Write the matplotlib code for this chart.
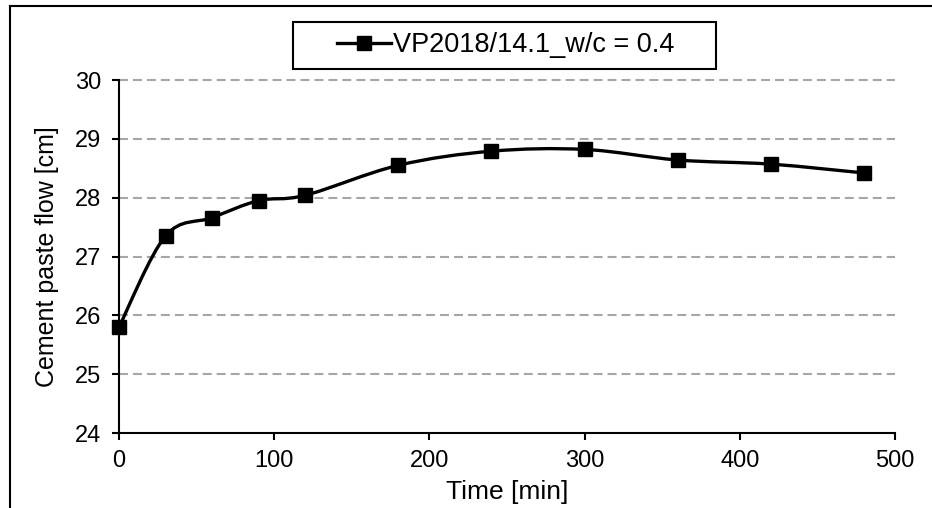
import numpy as np
import matplotlib
matplotlib.use("Agg")
import matplotlib.pyplot as plt
from matplotlib.path import Path
from matplotlib.patches import PathPatch, Rectangle
from matplotlib.lines import Line2D

plt.rcParams['font.family'] = ['Liberation Sans', 'DejaVu Sans']

# data
time_min = [0, 30, 60, 90, 120, 180, 240, 300, 360, 420, 480]
flow_cm = [25.8, 27.35, 27.66, 27.95, 28.04, 28.55, 28.79, 28.82, 28.64, 28.57, 28.42]
series_label = 'VP2018/14.1_w/c = 0.4'
x_ticks = [0, 100, 200, 300, 400, 500]
y_ticks = [24, 25, 26, 27, 28, 29, 30]


def smooth_path(xs, ys):
    # excel-like smoothed line: cubic bezier segments through the data points
    pts = np.column_stack([xs, ys]).astype(float)
    n = len(pts)
    verts = [pts[0]]
    codes = [Path.MOVETO]
    for i in range(n - 1):
        p0 = pts[i - 1] if i > 0 else pts[i]
        p1 = pts[i]
        p2 = pts[i + 1]
        p3 = pts[i + 2] if i + 2 < n else pts[i + 1]
        c1 = p1 + (p2 - p0) / 6.0
        c2 = p2 - (p3 - p1) / 6.0
        verts += [c1, c2, p2]
        codes += [Path.CURVE4] * 3
    return Path(verts, codes)


W, H = 932, 508
fig = plt.figure(figsize=(W / 100, H / 100), dpi=100)
ax = fig.add_axes([119 / W, 1 - 433 / H, (895 - 119) / W, (433 - 80) / H])

ax.set_xlim(0, 500)
ax.set_ylim(24, 30)
ax.set_xticks(x_ticks)
ax.set_yticks(y_ticks)

# dashed gridlines
for yv in y_ticks[1:]:
    ax.axhline(yv, color='#a6a6a6', lw=1.5, ls=(0, (4.3, 2.4)), zorder=1, clip_on=False)

ax.add_patch(PathPatch(smooth_path(time_min, flow_cm), facecolor='none',
                       edgecolor='black', lw=2.4, zorder=3, clip_on=False))
ax.plot(time_min, flow_cm, ls='none', marker='s', ms=10, color='black', zorder=4, clip_on=False)

for s in ['top', 'right']:
    ax.spines[s].set_visible(False)
for s in ['left', 'bottom']:
    ax.spines[s].set_linewidth(1.5)
ax.tick_params(direction='out', length=5, width=1.5, labelsize=17, pad=7)
ax.tick_params(axis='y', pad=8)

ax.set_xlabel('Time [min]', fontsize=19, labelpad=6)
ax.set_ylabel('Cement paste flow [cm]', fontsize=18, labelpad=11)

# legend: frame drawn separately, it is wider than its content
fig.add_artist(Rectangle((293 / W, 1 - 69 / H), (716 - 293) / W, 47 / H, transform=fig.transFigure,
                         facecolor='white', edgecolor='black', lw=1.5, zorder=5))
handle = Line2D([], [], color='black', lw=2.4, marker='s', ms=10)
leg = fig.legend([handle], [series_label], loc='center left', bbox_to_anchor=(337 / W, 1 - 45.5 / H),
                 fontsize=19.5, frameon=False, handlelength=2.0, handletextpad=0.05,
                 borderpad=0, borderaxespad=0)
leg.set_zorder(6)

# outer chart border (cropped on right and bottom)
fig.add_artist(Line2D([9.5 / W, 9.5 / W], [0, 1 - 5.5 / H], color='black', lw=1.5))
fig.add_artist(Line2D([9.5 / W, 1], [1 - 5.5 / H, 1 - 5.5 / H], color='black', lw=1.5))

fig.savefig('out.png', dpi=100)
